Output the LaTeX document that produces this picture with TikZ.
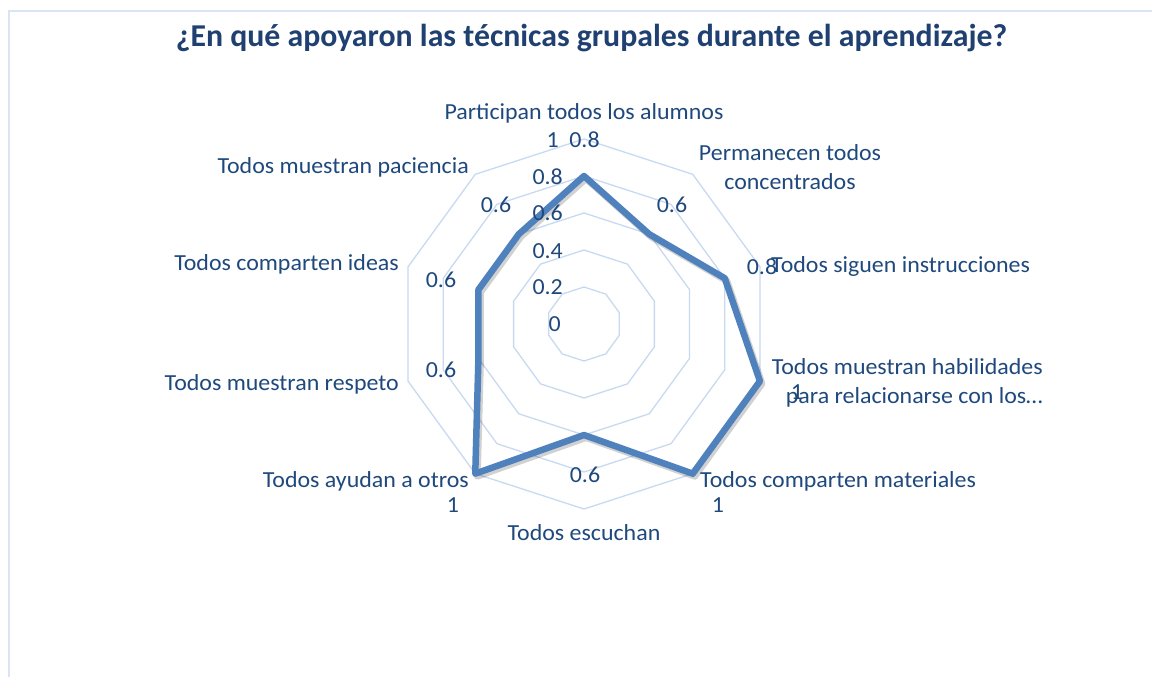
\documentclass[tikz,border=0pt]{standalone}
\usepackage{fontspec}
\setmainfont{Carlito}[FakeStretch=1.04]
\newfontfamily\ttlfont{Carlito}
\definecolor{txt}{RGB}{31,73,125}
\definecolor{ttl}{RGB}{31,64,112}
\definecolor{gridc}{RGB}{200,218,241}
\definecolor{ser}{RGB}{79,129,189}
\definecolor{framec}{RGB}{217,228,245}
\tikzset{
  lbl/.style={inner sep=0pt, text=txt, font=\fontsize{23}{28.5}\selectfont},
  val/.style={inner sep=0pt, text=txt, font=\fontsize{23}{26}\selectfont},
  ring/.style={draw=gridc, line width=1.3pt},
}
\begin{document}
\begin{tikzpicture}[x=1pt,y=-1pt]
\useasboundingbox (0,0) rectangle (1152,677);
\fill[white] (0,0) rectangle (1152,677);
\draw[framec, line width=2pt] (8.5,677) -- (8.5,11) -- (1152,11);

% title
\node[inner sep=0pt, text=ttl, font=\ttlfont\fontsize{31.8}{36}\selectfont\bfseries] (title) at (591.5,38) {¿En qué apoyaron las técnicas grupales durante el aprendizaje?};

% grid rings
\foreach \r in {37,74,111,148,185}{
  \draw[ring] ({584},{324-\r}) \foreach \k in {1,...,9}{ -- ({584+\r*sin(36*\k)},{324-\r*cos(36*\k)}) } -- cycle;
}

% data points
\foreach \v [count=\i from 0] in {0.8,0.6,0.8,1,1,0.6,1,0.6,0.6,0.6}{
  \coordinate (d\i) at ({584+185*\v*sin(36*\i)},{324-185*\v*cos(36*\i)});
}
\draw[transform canvas={xshift=2pt,yshift=-2.5pt}, black, opacity=0.18, line width=7pt, line join=round]
  (d0) -- (d1) -- (d2) -- (d3) -- (d4) -- (d5) -- (d6) -- (d7) -- (d8) -- (d9) -- cycle;
\draw[ser, line width=6.5pt, line join=round]
  (d0) -- (d1) -- (d2) -- (d3) -- (d4) -- (d5) -- (d6) -- (d7) -- (d8) -- (d9) -- cycle;

% axis tick labels
\node[val, anchor=east] (t0) at (561,324) {0};
\node[val, anchor=east] (t1) at (563,287) {0.2};
\node[val, anchor=east] (t2) at (563,251) {0.4};
\node[val, anchor=east] (t3) at (563,213) {0.6};
\node[val, anchor=east] (t4) at (563,177) {0.8};
\node[val, anchor=east] (t5) at (559,140) {1};

% data labels
\node[val] (v0) at (584.5,140) {0.8};
\node[val] (v1) at (672,205) {0.6};
\node[val] (v2) at (762,267) {0.8};
\node[val] (v3) at (797,392) {1};
\node[val] (v4) at (718,505) {1};
\node[val] (v5) at (585,475) {0.6};
\node[val] (v6) at (453,505) {1};
\node[val] (v7) at (441,370) {0.6};
\node[val] (v8) at (441,280) {0.6};
\node[val] (v9) at (496,205) {0.6};

% category labels
\node[lbl] (c0) at (584,113) {Participan todos los alumnos};
\node[lbl, align=center] (c1) at (790,167) {Permanecen todos\\concentrados};
\node[lbl, anchor=west] (c2) at (771,266) {Todos siguen instrucciones};
\node[lbl, align=right, anchor=east] (c3) at (1043,383) {Todos muestran habilidades\\para relacionarse con los…};
\node[lbl, anchor=west] (c4) at (700,481) {Todos comparten materiales};
\node[lbl] (c5) at (584,533) {Todos escuchan};
\node[lbl, anchor=east] (c6) at (469,481) {Todos ayudan a otros};
\node[lbl, anchor=east] (c7) at (399,384) {Todos muestran respeto};
\node[lbl, anchor=east] (c8) at (399,264) {Todos comparten ideas};
\node[lbl, anchor=east] (c9) at (469,167) {Todos muestran paciencia};
\end{tikzpicture}
\end{document}
